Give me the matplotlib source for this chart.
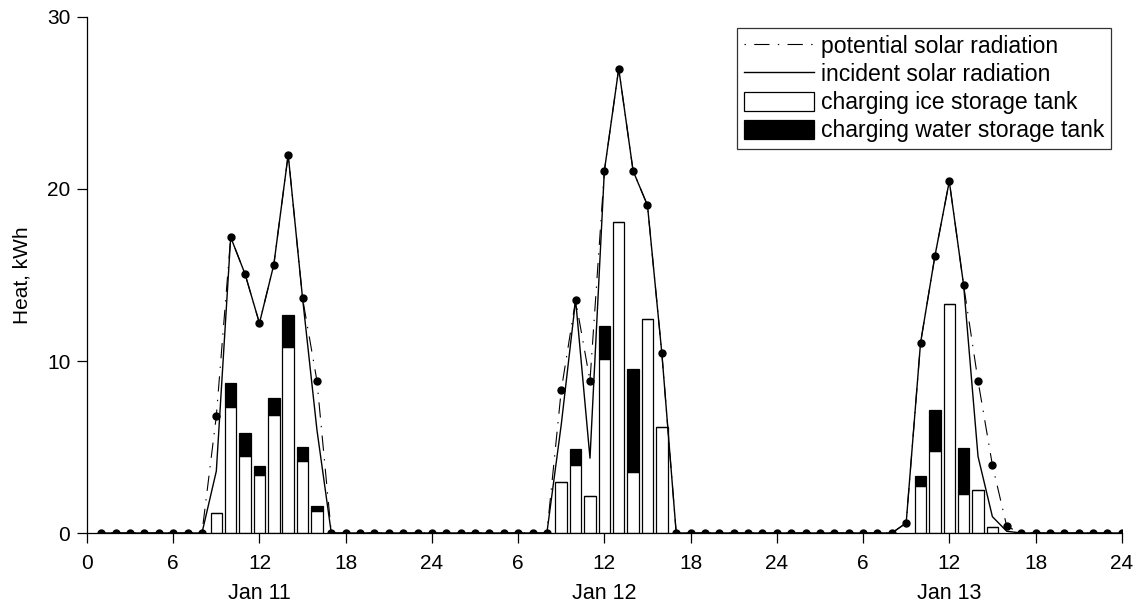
import numpy as np
import matplotlib
matplotlib.use('Agg')
import matplotlib.pyplot as plt
import matplotlib.transforms as mtransforms

plt.rcParams['font.family'] = ['Liberation Sans', 'DejaVu Sans']
plt.rcParams['lines.scale_dashes'] = False

# hours 1..24 of each day
potential_jan11 = [0, 0, 0, 0, 0, 0, 0, 0, 6.8, 17.2, 15.05, 12.2, 15.6, 22.0, 13.65, 8.85,
                   0, 0, 0, 0, 0, 0, 0, 0]
potential_jan12 = [0, 0, 0, 0, 0, 0, 0, 0, 8.3, 13.55, 8.85, 21.05, 27.0, 21.05, 19.05, 10.45,
                   0, 0, 0, 0, 0, 0, 0, 0]
potential_jan13 = [0, 0, 0, 0, 0, 0, 0, 0, 0.58, 11.05, 16.1, 20.45, 14.4, 8.85, 3.95, 0.38,
                   0, 0, 0, 0, 0, 0, 0, 0]

incident_jan11 = [0, 0, 0, 0, 0, 0, 0, 0, 3.6, 17.2, 15.05, 12.2, 15.6, 22.0, 13.65, 6.0,
                  0, 0, 0, 0, 0, 0, 0, 0]
incident_jan12 = [0, 0, 0, 0, 0, 0, 0, 0, 6.3, 13.55, 4.35, 21.05, 27.0, 21.05, 19.05, 10.45,
                  0, 0, 0, 0, 0, 0, 0, 0]
incident_jan13 = [0, 0, 0, 0, 0, 0, 0, 0, 0.58, 11.05, 16.1, 20.45, 14.4, 4.45, 0.95, 0.1,
                  0, 0, 0, 0, 0, 0, 0, 0]

# bars: hour counted from start of Jan 11
bar_hours = [9, 10, 11, 12, 13, 14, 15, 16,
             33, 34, 35, 36, 37, 38, 39, 40,
             58, 59, 60, 61, 62, 63]
ice_tank = [1.15, 7.35, 4.5, 3.37, 6.86, 10.83, 4.2, 1.28,
            2.95, 3.93, 2.16, 10.13, 18.09, 3.54, 12.43, 6.14,
            2.75, 4.79, 13.31, 2.27, 2.48, 0.33]
water_tank = [0, 1.35, 1.33, 0.5, 0.97, 1.86, 0.82, 0.3,
              0, 0.93, 0, 1.92, 0, 6.0, 0, 0,
              0.54, 2.38, 0, 2.67, 0, 0]

day_labels = ['Jan 11', 'Jan 12', 'Jan 13']
tick_pos = list(range(0, 73, 6))
tick_labels = ['0', '6', '12', '18', '24', '6', '12', '18', '24', '6', '12', '18', '24']

hours = np.arange(1, 73)
potential = np.array(potential_jan11 + potential_jan12 + potential_jan13)
incident = np.array(incident_jan11 + incident_jan12 + incident_jan13)

fig = plt.figure(figsize=(11.43, 6.07), dpi=100)
ax = fig.add_axes([0.0761, 0.1219, 0.9053, 0.8501])

ax.bar(bar_hours, ice_tank, width=0.8, color='white', edgecolor='black', linewidth=0.9,
       label='charging ice storage tank', zorder=2)
ax.bar(bar_hours, water_tank, width=0.8, bottom=ice_tank, color='black', edgecolor='black',
       linewidth=0.9, label='charging water storage tank', zorder=2)

ax.plot(hours, potential, color='black', linewidth=0.8, dashes=(1, 6, 11, 6),
        marker='o', markersize=5, label='potential solar radiation', zorder=3)
ax.plot(hours, incident, color='black', linewidth=1.0, label='incident solar radiation', zorder=4)

ax.set_xlim(0, 72)
ax.set_ylim(0, 30)
ax.set_xticks(tick_pos)
ax.set_xticklabels(tick_labels)
ax.set_yticks([0, 10, 20, 30])
ax.tick_params(direction='out', length=7, width=0.9, labelsize=15)
ax.tick_params(axis='x', pad=8)
ax.tick_params(axis='y', pad=5)
ax.spines['top'].set_visible(False)
ax.spines['right'].set_visible(False)
ax.spines['left'].set_linewidth(0.9)
ax.spines['bottom'].set_linewidth(0.9)
ax.set_ylabel('Heat, kWh', fontsize=15, labelpad=11)

trans = mtransforms.blended_transform_factory(ax.transData, ax.transAxes)
for i, lab in enumerate(day_labels):
    ax.text(12 + 24 * i, -0.118, lab, transform=trans, ha='center', va='center', fontsize=15.5)

leg = ax.legend(loc='upper right', bbox_to_anchor=(0.9897, 0.9787),
                fontsize=16.6, frameon=True, fancybox=False, edgecolor='black',
                handlelength=3.05, handleheight=0.9, labelspacing=0.22, borderpad=0.3,
                handletextpad=0.3, borderaxespad=0)
leg.get_frame().set_linewidth(0.9)
# legend lines without markers
for lh in leg.get_lines():
    lh.set_marker('')

fig.savefig('out.png', dpi=100)
